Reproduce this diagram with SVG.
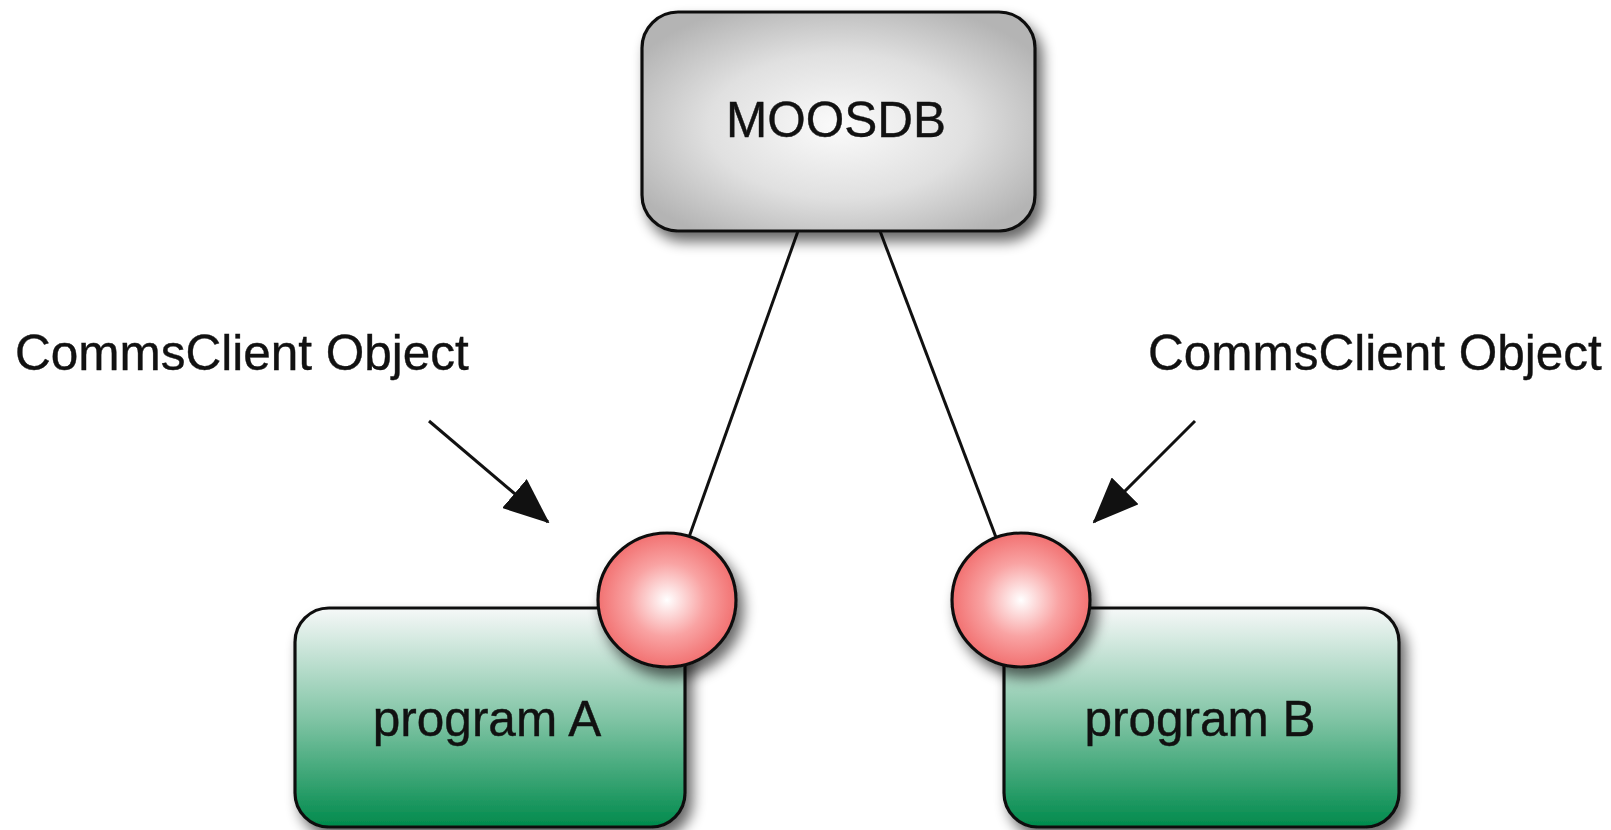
<svg xmlns="http://www.w3.org/2000/svg" width="1611" height="830" viewBox="0 0 1611 830">
  <style>
    .lbl { font-family: "Liberation Sans", Arial, Helvetica, sans-serif; font-size: 49.5px; fill: #111; stroke: #111; stroke-width: 0.4; }
    .mid { text-anchor: middle; }
    .edge { stroke: #111; stroke-width: 3; fill: none; }
    .outline { stroke: #111; stroke-width: 3.2; }
  </style>
  <defs>
    <radialGradient id="greyFill" cx="50%" cy="52%" r="60%">
      <stop offset="0" stop-color="#fbfbfb"/>
      <stop offset="0.55" stop-color="#e0e0e0"/>
      <stop offset="1" stop-color="#b4b4b4"/>
    </radialGradient>
    <linearGradient id="greenFill" x1="0" y1="0" x2="0" y2="1">
      <stop offset="0" stop-color="#f6f8f8"/>
      <stop offset="0.5" stop-color="#82c5a6"/>
      <stop offset="1" stop-color="#008a4c"/>
    </linearGradient>
    <radialGradient id="redFill" cx="50%" cy="50%" r="55%">
      <stop offset="0" stop-color="#ffffff"/>
      <stop offset="0.5" stop-color="#f9a3a3"/>
      <stop offset="1" stop-color="#f06666"/>
    </radialGradient>
    <filter id="shadow" x="-20%" y="-20%" width="150%" height="150%">
      <feGaussianBlur in="SourceAlpha" stdDeviation="7"/>
      <feOffset dx="6" dy="9" result="blur"/>
      <feComponentTransfer><feFuncA type="linear" slope="0.6"/></feComponentTransfer>
      <feMerge><feMergeNode/><feMergeNode in="SourceGraphic"/></feMerge>
    </filter>
    <marker id="head" markerUnits="userSpaceOnUse" markerWidth="46" markerHeight="38" refX="44" refY="19" orient="auto">
      <path d="M0,0 L46,19 L0,38 Z" fill="#111"/>
    </marker>
  </defs>

  <rect width="1611" height="830" fill="#ffffff"/>

  <!-- links from the database to each client -->
  <g id="connectors">
    <line class="edge" x1="798" y1="231" x2="688" y2="540"/>
    <line class="edge" x1="880" y1="231" x2="997" y2="540"/>
    <line class="edge" x1="429" y1="421" x2="548" y2="522" marker-end="url(#head)"/>
    <line class="edge" x1="1195" y1="421" x2="1094" y2="522" marker-end="url(#head)"/>
  </g>

  <g id="moosdb">
    <rect class="outline" x="642" y="12" width="393" height="219" rx="36" ry="36" fill="url(#greyFill)" filter="url(#shadow)"/>
    <text class="lbl mid" x="836" y="137">MOOSDB</text>
  </g>

  <g id="programA">
    <rect class="outline" x="295" y="608" width="390" height="219" rx="34" ry="34" fill="url(#greenFill)" filter="url(#shadow)"/>
    <text class="lbl mid" x="487" y="736">program A</text>
  </g>

  <g id="programB">
    <rect class="outline" x="1004" y="608" width="395" height="219" rx="34" ry="34" fill="url(#greenFill)" filter="url(#shadow)"/>
    <text class="lbl mid" x="1200" y="736">program B</text>
  </g>

  <g id="clientA">
    <ellipse class="outline" cx="667" cy="600" rx="69" ry="67" fill="url(#redFill)" filter="url(#shadow)"/>
  </g>

  <g id="clientB">
    <ellipse class="outline" cx="1021" cy="600" rx="69" ry="67" fill="url(#redFill)" filter="url(#shadow)"/>
  </g>

  <g id="labelA">
    <text class="lbl" x="15" y="370">CommsClient Object</text>
  </g>
  <g id="labelB">
    <text class="lbl" x="1148" y="370">CommsClient Object</text>
  </g>
</svg>
